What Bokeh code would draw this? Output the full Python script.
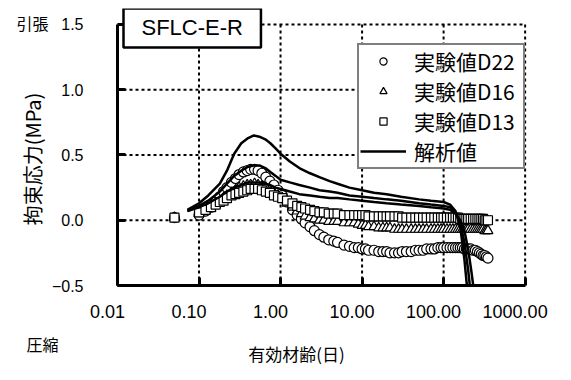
import math
from bokeh.plotting import figure
from bokeh.models import Range1d, FixedTicker, PrintfTickFormatter, Legend, LegendItem, Label
from bokeh.embed import file_html
from bokeh.resources import INLINE

# ---------------- data ----------------
exp_age = [0.05, 0.10, 0.12, 0.14, 0.16, 0.18, 0.20, 0.22, 0.25, 0.28,
           0.31, 0.35, 0.39, 0.43, 0.48, 0.53, 0.59, 0.66, 0.74, 0.83,
           0.93, 1.05, 1.2, 1.4, 1.6, 1.8, 2.0, 2.3, 2.6, 3.0,
           3.4, 3.9, 4.5, 5.0, 6.0, 7.0, 8.0, 9.0, 10, 11,
           12, 14, 16, 18, 20, 22, 25, 28, 31, 35,
           40, 45, 50, 56, 62, 70, 77, 85, 93, 100,
           110, 120, 130, 140, 150, 160, 170, 180, 190, 200,
           215, 230, 245, 260, 275, 290, 305, 320, 335, 350]

d22 = [0.02, 0.04, 0.07, 0.10, 0.14, 0.18, 0.22, 0.25, 0.29, 0.32,
       0.35, 0.37, 0.38, 0.39, 0.39, 0.38, 0.36, 0.33, 0.30, 0.27,
       0.23, 0.19, 0.14, 0.08, 0.04, 0.01, -0.02, -0.05, -0.08, -0.11,
       -0.13, -0.15, -0.16, -0.17, -0.19, -0.20, -0.21, -0.21, -0.22, -0.22,
       -0.23, -0.23, -0.24, -0.24, -0.24, -0.25, -0.25, -0.25, -0.24, -0.24,
       -0.24, -0.23, -0.23, -0.23, -0.22, -0.22, -0.22, -0.21, -0.21, -0.21,
       -0.21, -0.21, -0.21, -0.21, -0.21, -0.21, -0.21, -0.22, -0.22, -0.22,
       -0.22, -0.23, -0.23, -0.24, -0.25, -0.26, -0.27, -0.27, -0.28, -0.29]

d16 = [0.02, 0.05, 0.07, 0.09, 0.12, 0.14, 0.17, 0.19, 0.21, 0.23,
       0.25, 0.26, 0.27, 0.27, 0.28, 0.27, 0.26, 0.25, 0.23, 0.21,
       0.19, 0.16, 0.13, 0.10, 0.07, 0.05, 0.03, 0.02, 0.01, 0.00,
       0.00, -0.01, -0.01, -0.01, -0.02, -0.02, -0.02, -0.03, -0.04, -0.04,
       -0.05, -0.05, -0.06, -0.06, -0.06, -0.06, -0.07, -0.07, -0.07, -0.07,
       -0.07, -0.07, -0.07, -0.07, -0.07, -0.07, -0.07, -0.07, -0.07, -0.07,
       -0.07, -0.07, -0.07, -0.07, -0.07, -0.07, -0.07, -0.07, -0.07, -0.07,
       -0.07, -0.07, -0.07, -0.07, -0.07, -0.07, -0.07, -0.08, -0.08, -0.08]

d13 = [0.02, 0.06, 0.08, 0.10, 0.12, 0.14, 0.15, 0.17, 0.19, 0.20,
       0.21, 0.22, 0.23, 0.24, 0.24, 0.24, 0.23, 0.22, 0.21, 0.19,
       0.18, 0.17, 0.15, 0.13, 0.11, 0.10, 0.09, 0.08, 0.07, 0.06,
       0.06, 0.05, 0.05, 0.05, 0.04, 0.04, 0.04, 0.04, 0.04, 0.04,
       0.03, 0.03, 0.03, 0.03, 0.03, 0.03, 0.03, 0.03, 0.02, 0.02,
       0.02, 0.02, 0.02, 0.02, 0.02, 0.02, 0.02, 0.02, 0.02, 0.02,
       0.02, 0.02, 0.02, 0.02, 0.02, 0.01, 0.01, 0.01, 0.01, 0.01,
       0.01, 0.01, 0.01, 0.01, 0.01, 0.01, 0.01, 0.00, 0.00, 0.00]

ana_age = [0.072, 0.1, 0.13, 0.18, 0.22, 0.27, 0.33, 0.4, 0.47, 0.55,
           0.65, 0.75, 0.87, 1.0, 1.3, 1.7, 2.3, 3, 4, 5,
           7, 10, 14, 20, 30, 50, 70, 100, 120, 140,
           160, 180, 200, 220, 240]

ana_1 = [0.08, 0.13, 0.19, 0.28, 0.38, 0.51, 0.59, 0.63, 0.65, 0.64,
         0.62, 0.59, 0.55, 0.51, 0.45, 0.40, 0.36, 0.33, 0.30, 0.28,
         0.25, 0.23, 0.21, 0.20, 0.18, 0.16, 0.15, 0.14, 0.12, 0.07,
         -0.05, -0.30, -0.60, -0.90, -1.20]

ana_2 = [0.07, 0.11, 0.15, 0.22, 0.28, 0.34, 0.38, 0.41, 0.42, 0.42,
         0.40, 0.37, 0.34, 0.31, 0.29, 0.27, 0.25, 0.23, 0.22, 0.21,
         0.19, 0.18, 0.17, 0.16, 0.15, 0.13, 0.12, 0.11, 0.10, 0.06,
         -0.02, -0.17, -0.38, -0.62, -0.90]

ana_3 = [0.07, 0.10, 0.13, 0.18, 0.22, 0.25, 0.27, 0.29, 0.29, 0.29,
         0.28, 0.27, 0.25, 0.24, 0.22, 0.20, 0.19, 0.18, 0.17, 0.17,
         0.16, 0.15, 0.14, 0.13, 0.12, 0.11, 0.10, 0.09, 0.08, 0.05,
         0.00, -0.08, -0.22, -0.40, -0.58]

x_ticks = [0.01, 0.1, 1, 10, 100, 1000]
y_ticks = [-0.5, 0.0, 0.5, 1.0, 1.5]

JP = "Noto Sans CJK JP"
NUM = "Liberation Sans"

# ---------------- figure ----------------
# frame reaches a little above 1.5 so the title box is not clipped
p = figure(width=571, height=380, x_axis_type="log",
           x_range=Range1d(0.01, 1100), y_range=Range1d(-0.5, 1.6226),
           output_backend="svg", toolbar_location=None,
           min_border_left=117, min_border_right=43,
           min_border_top=8, min_border_bottom=95)
p.title.visible = False
p.outline_line_color = None
p.background_fill_color = "white"
p.border_fill_color = "white"
p.xgrid.visible = False
p.ygrid.visible = False

# axes (x labels sit slightly left of their ticks, as in the original)
p.xaxis.ticker = FixedTicker(ticks=x_ticks)
p.xaxis.formatter = PrintfTickFormatter(format="%.2f\u00a0\u00a0\u00a0\u00a0")
p.xaxis.bounds = (x_ticks[0], x_ticks[-1])
p.yaxis.ticker = FixedTicker(ticks=y_ticks)
p.yaxis.formatter = PrintfTickFormatter(format="%.1f")
p.yaxis.major_label_overrides = {-0.5: "−0.5"}
p.yaxis.bounds = (y_ticks[0], y_ticks[-1])

for ax in (p.xaxis[0], p.yaxis[0]):
    ax.axis_line_width = 3
    ax.axis_line_color = "black"
    ax.major_tick_in = 8
    ax.major_tick_out = 0
    ax.major_tick_line_width = 3
    ax.major_tick_line_color = "black"
    ax.minor_tick_line_color = None
    ax.major_label_text_font = NUM
    ax.major_label_text_color = "black"

p.xaxis.major_label_text_font_size = "18px"
p.xaxis.major_label_standoff = 16
p.yaxis.major_label_text_font_size = "16px"
p.yaxis.major_label_standoff = 34

# dashed grid (drawn from the tick lists)
nx, ny = len(x_ticks), len(y_ticks)
grid_style = dict(line_color="black", line_dash="3 3", line_width=2)
p.segment(x0=x_ticks, y0=[y_ticks[0]] * nx, x1=x_ticks, y1=[y_ticks[-1]] * nx, **grid_style)
p.segment(x0=[x_ticks[0]] * ny, y0=y_ticks, x1=[x_ticks[-1]] * ny, y1=y_ticks, **grid_style)

# data
mk = dict(fill_color="white", line_color="black", line_width=1.2)
r22 = p.scatter(exp_age, d22, marker="circle", size=10, **mk)
r16 = p.scatter(exp_age, d16, marker="triangle", size=10, **mk)
r13 = p.scatter(exp_age, d13, marker="square", size=9, **mk)
ra = p.line(ana_age, ana_1, line_color="black", line_width=2.5)
p.line(ana_age, ana_2, line_color="black", line_width=2.5)
p.line(ana_age, ana_3, line_color="black", line_width=2.5)

legend = Legend(items=[
    LegendItem(label="実験値D22", renderers=[r22]),
    LegendItem(label="実験値D16", renderers=[r16]),
    LegendItem(label="実験値D13", renderers=[r13]),
    LegendItem(label="解析値", renderers=[ra]),
], location=(240, 116))
legend.label_text_font = JP
legend.label_text_font_size = "21px"
legend.label_text_color = "black"
legend.glyph_width = 46
legend.glyph_height = 18
legend.label_height = 26
legend.label_width = 108
legend.label_standoff = 8
legend.padding = 1
legend.spacing = 0
legend.margin = 0
legend.border_line_color = "black"
legend.border_line_width = 2.5
legend.background_fill_color = "white"
legend.background_fill_alpha = 1
p.add_layout(legend)

# title box
p.add_layout(Label(x=0.01, y=1.5, x_offset=6, y_offset=16, text="SFLC-E-R",
                   text_font=NUM, text_font_size="22px", text_color="black",
                   text_align="left", text_baseline="top",
                   border_line_color="black", border_line_width=2.5,
                   background_fill_color="white", padding=(18, 7)))

# y axis title, tension / compression marks, x axis title (outside the frame)
p.add_layout(Label(x=0.01, y=0.5, x_offset=-85, y_offset=-4, text="拘束応力(MPa)",
                   angle=math.pi / 2,
                   text_font=JP, text_font_size="20px", text_color="black",
                   text_align="center", text_baseline="middle"), "left")
p.add_layout(Label(x=0.01, y=1.5, x_offset=-85, y_offset=1, text="引張",
                   text_font=JP, text_font_size="16px", text_color="black",
                   text_align="center", text_baseline="middle"), "right")
p.add_layout(Label(x=0.01, y=-0.5, x_offset=-75, y_offset=-58, text="圧縮",
                   text_font=JP, text_font_size="16px", text_color="black",
                   text_align="center", text_baseline="middle"), "below")
p.add_layout(Label(x=0.01, y=-0.5, x_offset=179, y_offset=-68, text="有効材齢(日)",
                   text_font=JP, text_font_size="17px", text_color="black",
                   text_align="center", text_baseline="middle"), "below")

open("out.html", "w").write(file_html(p, INLINE))
